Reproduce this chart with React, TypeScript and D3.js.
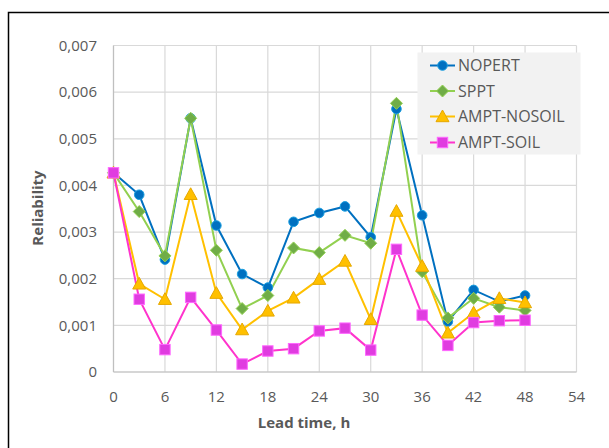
import React from "react";
import * as d3 from "d3";

const leadTimes = [0, 3, 6, 9, 12, 15, 18, 21, 24, 27, 30, 33, 36, 39, 42, 45, 48];
const nopert = [4.27, 3.8, 2.41, 5.44, 3.14, 2.1, 1.81, 3.22, 3.41, 3.55, 2.89, 5.64, 3.36, 1.08, 1.76, 1.51, 1.64];
const sppt = [4.27, 3.44, 2.49, 5.44, 2.61, 1.36, 1.64, 2.66, 2.56, 2.93, 2.76, 5.76, 2.15, 1.16, 1.58, 1.39, 1.32];
const amptNosoil = [4.27, 1.89, 1.56, 3.81, 1.69, 0.91, 1.31, 1.59, 1.99, 2.38, 1.13, 3.45, 2.27, 0.84, 1.27, 1.58, 1.49];
const amptSoil = [4.27, 1.56, 0.48, 1.6, 0.9, 0.17, 0.45, 0.5, 0.88, 0.94, 0.47, 2.63, 1.22, 0.57, 1.06, 1.1, 1.11];
const xTicks = [0, 6, 12, 18, 24, 30, 36, 42, 48, 54];
const yTicks = [0, 0.001, 0.002, 0.003, 0.004, 0.005, 0.006, 0.007];
const yTickLabels = ["0", "0,001", "0,002", "0,003", "0,004", "0,005", "0,006", "0,007"];

type Series = { name: string; values: number[]; line: string; fill: string; stroke: string; shape: string };
const seriesList: Series[] = [
  { name: "NOPERT", values: nopert, line: "#0070C0", fill: "#0070C0", stroke: "#1A9FE0", shape: "circle" },
  { name: "SPPT", values: sppt, line: "#92D050", fill: "#70AD47", stroke: "#92D050", shape: "diamond" },
  { name: "AMPT-NOSOIL", values: amptNosoil, line: "#FFC000", fill: "#FFC000", stroke: "#E6A800", shape: "triangle" },
  { name: "AMPT-SOIL", values: amptSoil, line: "#FF33CC", fill: "#E03CE0", stroke: "#FF66FF", shape: "square" },
];

const FONT = "'Open Sans', sans-serif";

function Marker({ shape, x, y, fill, stroke }: { shape: string; x: number; y: number; fill: string; stroke: string }) {
  if (shape === "circle") return <circle cx={x} cy={y} r={4.8} fill={fill} stroke={stroke} strokeWidth={1} />;
  if (shape === "diamond") {
    const s = 6;
    return <path d={`M${x},${y - s}L${x + s},${y}L${x},${y + s}L${x - s},${y}Z`} fill={fill} stroke={stroke} strokeWidth={1} />;
  }
  if (shape === "triangle") {
    const s = 6.5;
    return <path d={`M${x},${y - s}L${x + s},${y + s * 0.8}L${x - s},${y + s * 0.8}Z`} fill={fill} stroke={stroke} strokeWidth={1} />;
  }
  const s = 5.2;
  return <rect x={x - s} y={y - s} width={2 * s} height={2 * s} fill={fill} stroke={stroke} strokeWidth={1} />;
}

export default function App() {
  const W = 609, H = 448;
  const x = d3.scaleLinear().domain([0, 54]).range([113.5, 576.5]);
  const y = d3.scaleLinear().domain([0, 0.007]).range([372, 45.5]);
  const line = d3.line<number>().x((_, i) => x(leadTimes[i])).y((v) => y(v / 1000));
  const legendY = [65.5, 91, 116.5, 142.5];
  return (
    <svg width={W} height={H} style={{ position: "absolute", left: 0, top: 0, background: "#fff" }} fontFamily={FONT}>
      <rect x={8.5} y={12.5} width={620} height={460} fill="#fff" stroke="#000" strokeWidth={1.5} />
      {yTicks.map((t) => (
        <line key={"gy" + t} x1={x(0)} x2={x(54)} y1={y(t)} y2={y(t)} stroke="#D9D9D9" strokeWidth={1.2} />
      ))}
      {xTicks.map((t) => (
        <line key={"gx" + t} x1={x(t)} x2={x(t)} y1={y(0)} y2={y(0.007)} stroke="#D9D9D9" strokeWidth={1.2} />
      ))}
      <line x1={x(0)} x2={x(54)} y1={y(0)} y2={y(0)} stroke="#BFBFBF" strokeWidth={1.2} />
      <line x1={x(0)} x2={x(0)} y1={y(0)} y2={y(0.007)} stroke="#BFBFBF" strokeWidth={1.2} />
      {yTicks.map((t, i) => (
        <text key={"ty" + t} x={97} y={y(t)} dy="0.35em" textAnchor="end" fontSize={15} fill="#595959">
          {yTickLabels[i]}
        </text>
      ))}
      {xTicks.map((t) => (
        <text key={"tx" + t} x={x(t)} y={397} dy="0.35em" textAnchor="middle" fontSize={15} fill="#595959">
          {t}
        </text>
      ))}
      <text x={304} y={423} dy="0.35em" textAnchor="middle" fontSize={15} fontWeight="bold" fill="#595959">
        Lead time, h
      </text>
      <text transform="translate(38,208) rotate(-90)" dy="0.35em" textAnchor="middle" fontSize={15} fontWeight="bold" fill="#595959">
        Reliability
      </text>
      {seriesList.map((s) => (
        <path key={"l" + s.name} d={line(s.values) || ""} fill="none" stroke={s.line} strokeWidth={2} />
      ))}
      {seriesList.map((s) =>
        s.values.map((v, i) => (
          <Marker key={s.name + i} shape={s.shape} x={x(leadTimes[i])} y={y(v / 1000)} fill={s.fill} stroke={s.stroke} />
        ))
      )}
      <rect x={417.5} y={52.5} width={163} height={102} fill="#F2F2F2" />
      {seriesList.map((s, i) => (
        <g key={"lg" + s.name}>
          <line x1={430} x2={455} y1={legendY[i]} y2={legendY[i]} stroke={s.line} strokeWidth={2} />
          <Marker shape={s.shape} x={442.5} y={legendY[i]} fill={s.fill} stroke={s.stroke} />
          <text x={458} y={legendY[i]} dy="0.35em" fontSize={16} fill="#595959">
            {s.name}
          </text>
        </g>
      ))}
    </svg>
  );
}
